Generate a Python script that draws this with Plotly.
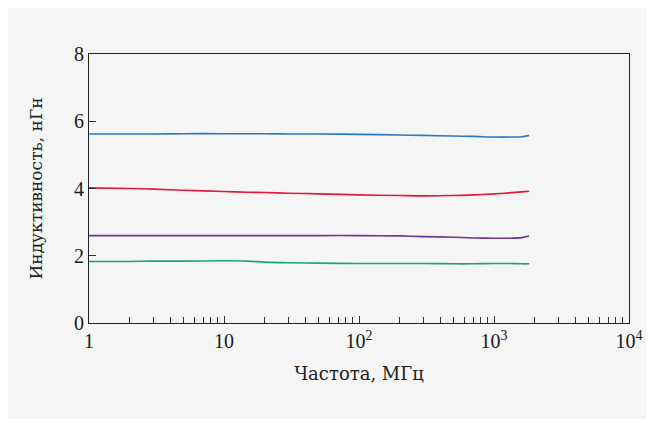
import plotly.graph_objects as go

freq = [1, 2, 3, 5, 10, 15, 20, 30, 50, 100, 200, 300, 500, 700, 1000, 1300, 1600, 1820]
blue = [5.62, 5.62, 5.62, 5.63, 5.63, 5.63, 5.63, 5.62, 5.62, 5.61, 5.59, 5.58, 5.56, 5.55, 5.53, 5.53, 5.54, 5.58]
red = [4.02, 4.00, 3.98, 3.95, 3.91, 3.89, 3.88, 3.86, 3.84, 3.81, 3.79, 3.78, 3.79, 3.81, 3.84, 3.87, 3.90, 3.92]
purple = [2.60, 2.60, 2.60, 2.60, 2.60, 2.60, 2.60, 2.60, 2.60, 2.60, 2.59, 2.57, 2.55, 2.53, 2.52, 2.52, 2.54, 2.59]
green = [1.83, 1.83, 1.84, 1.84, 1.85, 1.84, 1.81, 1.79, 1.78, 1.77, 1.77, 1.77, 1.76, 1.76, 1.77, 1.77, 1.76, 1.76]

series = [("blue", blue, "#2a78c0"), ("red", red, "#e2183d"),
          ("purple", purple, "#6e3596"), ("green", green, "#18a57c")]

x_tickvals = [1, 10, 100, 1000, 10000]
x_ticktext = ["1", "10", "10<sup>2</sup>", "10<sup>3</sup>", "10<sup>4</sup>"]
y_tickvals = [0, 2, 4, 6, 8]

fig = go.Figure()
for name, vals, col in series:
    fig.add_trace(go.Scatter(x=freq, y=vals, mode="lines", name=name,
                             line=dict(color=col, width=1.6, shape="spline", smoothing=0.8),
                             showlegend=False))

tick_font = dict(family="Liberation Serif, serif", size=20, color="#1a1a1a")
fig.update_layout(
    width=646, height=415,
    margin=dict(l=81, r=25, t=46, b=100),
    paper_bgcolor="white", plot_bgcolor="#f5f5f5",
    font=dict(family="Liberation Serif, serif", size=18, color="#222"),
    xaxis=dict(type="log", range=[0, 4], tickvals=x_tickvals, ticktext=x_ticktext,
               ticks="inside", ticklen=7, tickcolor="#333", tickwidth=1,
               minor=dict(ticks="inside", ticklen=6, tickcolor="#333", tickwidth=1,
                          dtick="D1", showgrid=False),
               showline=True, linecolor="#222", linewidth=1.2, mirror=True,
               showgrid=False, zeroline=False, automargin=False,
               title=dict(text="Частота, МГц",
                          font=dict(family="DejaVu Serif, serif", size=18, color="#222"),
                          standoff=16),
               tickfont=tick_font),
    yaxis=dict(range=[0, 8], tickvals=y_tickvals, ticks="inside", ticklen=7,
               tickcolor="#333", tickwidth=1,
               showline=True, linecolor="#222", linewidth=1.2, mirror=True,
               showgrid=False, zeroline=False, automargin=False,
               title=dict(text="Индуктивность, нГн",
                          font=dict(family="DejaVu Serif, serif", size=17, color="#222"),
                          standoff=26),
               tickfont=tick_font),
    shapes=[dict(type="rect", xref="paper", yref="paper", x0=-0.157, x1=1.039,
                 y0=-0.357, y1=1.182, fillcolor="#f5f5f5", line=dict(width=0),
                 layer="below")],
)

fig.write_html("out.html")
